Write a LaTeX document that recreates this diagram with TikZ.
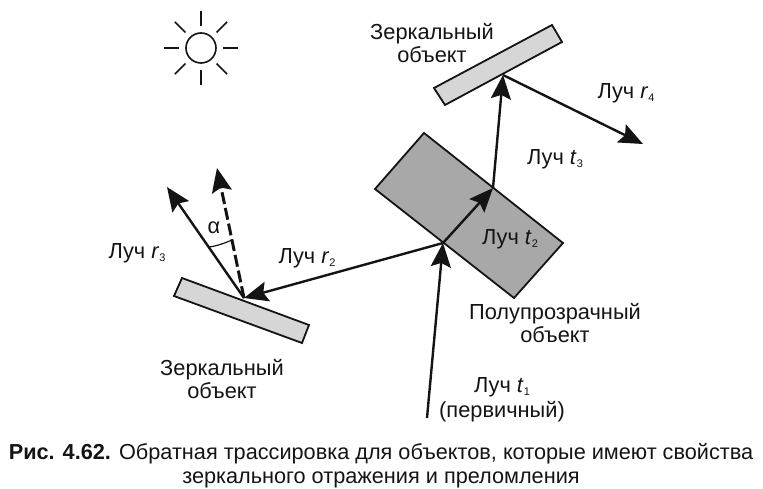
\documentclass[tikz,border=0pt]{standalone}
\usepackage{fontspec}
\setmainfont{Liberation Sans}
\usetikzlibrary{arrows.meta,calc}
\definecolor{semi}{gray}{0.66}
\definecolor{mirror}{gray}{0.84}
\definecolor{ink}{gray}{0.08}
\newcommand{\ray}[2]{Луч \textit{#1}\raisebox{-3pt}{\fontsize{11}{11}\selectfont #2}}
\tikzset{
  x=1pt,y=-1pt,
  lbl/.style={font=\fontsize{21.8}{23.5}\selectfont,text=ink,align=center,inner sep=0pt},
  captiontext/.style={font=\fontsize{21.7}{23.5}\selectfont,text=ink,align=center,inner sep=0pt},
  body/.style={draw=ink,line width=1.8pt,line join=miter},
  rayline/.style={draw=ink,line width=2.4pt,-{Stealth[length=24pt,width=20pt,inset=4pt,fill=ink]}},
  sunray/.style={draw=ink,line width=1.5pt},
}
\begin{document}
\begin{tikzpicture}
\useasboundingbox (0,0) rectangle (763,489);
% bodies
\draw[body,fill=mirror] (434,88) -- (552,25) -- (562,42) -- (445,105) -- cycle;
\draw[body,fill=semi] (424,133) -- (563,243) -- (514,298) -- (375,189) -- cycle;
\draw[body,fill=mirror] (182,278) -- (309,325) -- (302,343) -- (174,296) -- cycle;
% ray points
\coordinate (start) at (427,418);
\coordinate (hit) at (443,243);
\coordinate (exit) at (493,188);
\coordinate (top) at (503,75);
\coordinate (r4end) at (643,144);
\coordinate (low) at (244,298);
\coordinate (r3end) at (167,187);
\coordinate (nend) at (217,168);
\draw[rayline] (start) -- (hit);
\draw[rayline] (hit) -- (exit);
\draw[rayline] (exit) -- (top);
\draw[rayline] (top) -- (r4end);
\draw[rayline] (hit) -- (low);
\draw[rayline] (low) -- (r3end);
\draw[rayline,line width=3pt,dash pattern=on 12pt off 4pt] (low) -- (nend);
\draw[draw=ink,line width=1.2pt] (209,247) .. controls (217,246) and (225,243) .. (232,240);
% sun
\node[circle,draw=ink,line width=1.6pt,minimum size=30pt,inner sep=0pt] (sun) at (201,48) {};
\foreach \a in {0,45,...,315}{
  \draw[sunray] ($(sun.center)+(\a:22)$) -- ($(sun.center)+(\a:37)$);
}
% labels
\node[lbl] (m1) at (432,43) {Зеркальный\\объект};
\node[lbl] (m2) at (222,379) {Зеркальный\\объект};
\node[lbl] (m3) at (555,323) {Полупрозрачный\\объект};
\node[lbl] (r4) at (626,93) {\ray{r}{4}};
\node[lbl] (t3) at (555,159) {\ray{t}{3}};
\node[lbl] (t2) at (510,239) {\ray{t}{2}};
\node[lbl] (r2) at (307,258) {\ray{r}{2}};
\node[lbl] (r3) at (137,253) {\ray{r}{3}};
\node[lbl] (al) at (214,228) {α};
\node[lbl] (t1) at (502,400) {\ray{t}{1}\\[1pt](первичный)};
\node[captiontext] (c) at (381,465.5) {\textbf{Рис. 4.62.} Обратная трассировка для объектов, которые имеют свойства\\зеркального отражения и преломления};
\end{tikzpicture}
\end{document}
